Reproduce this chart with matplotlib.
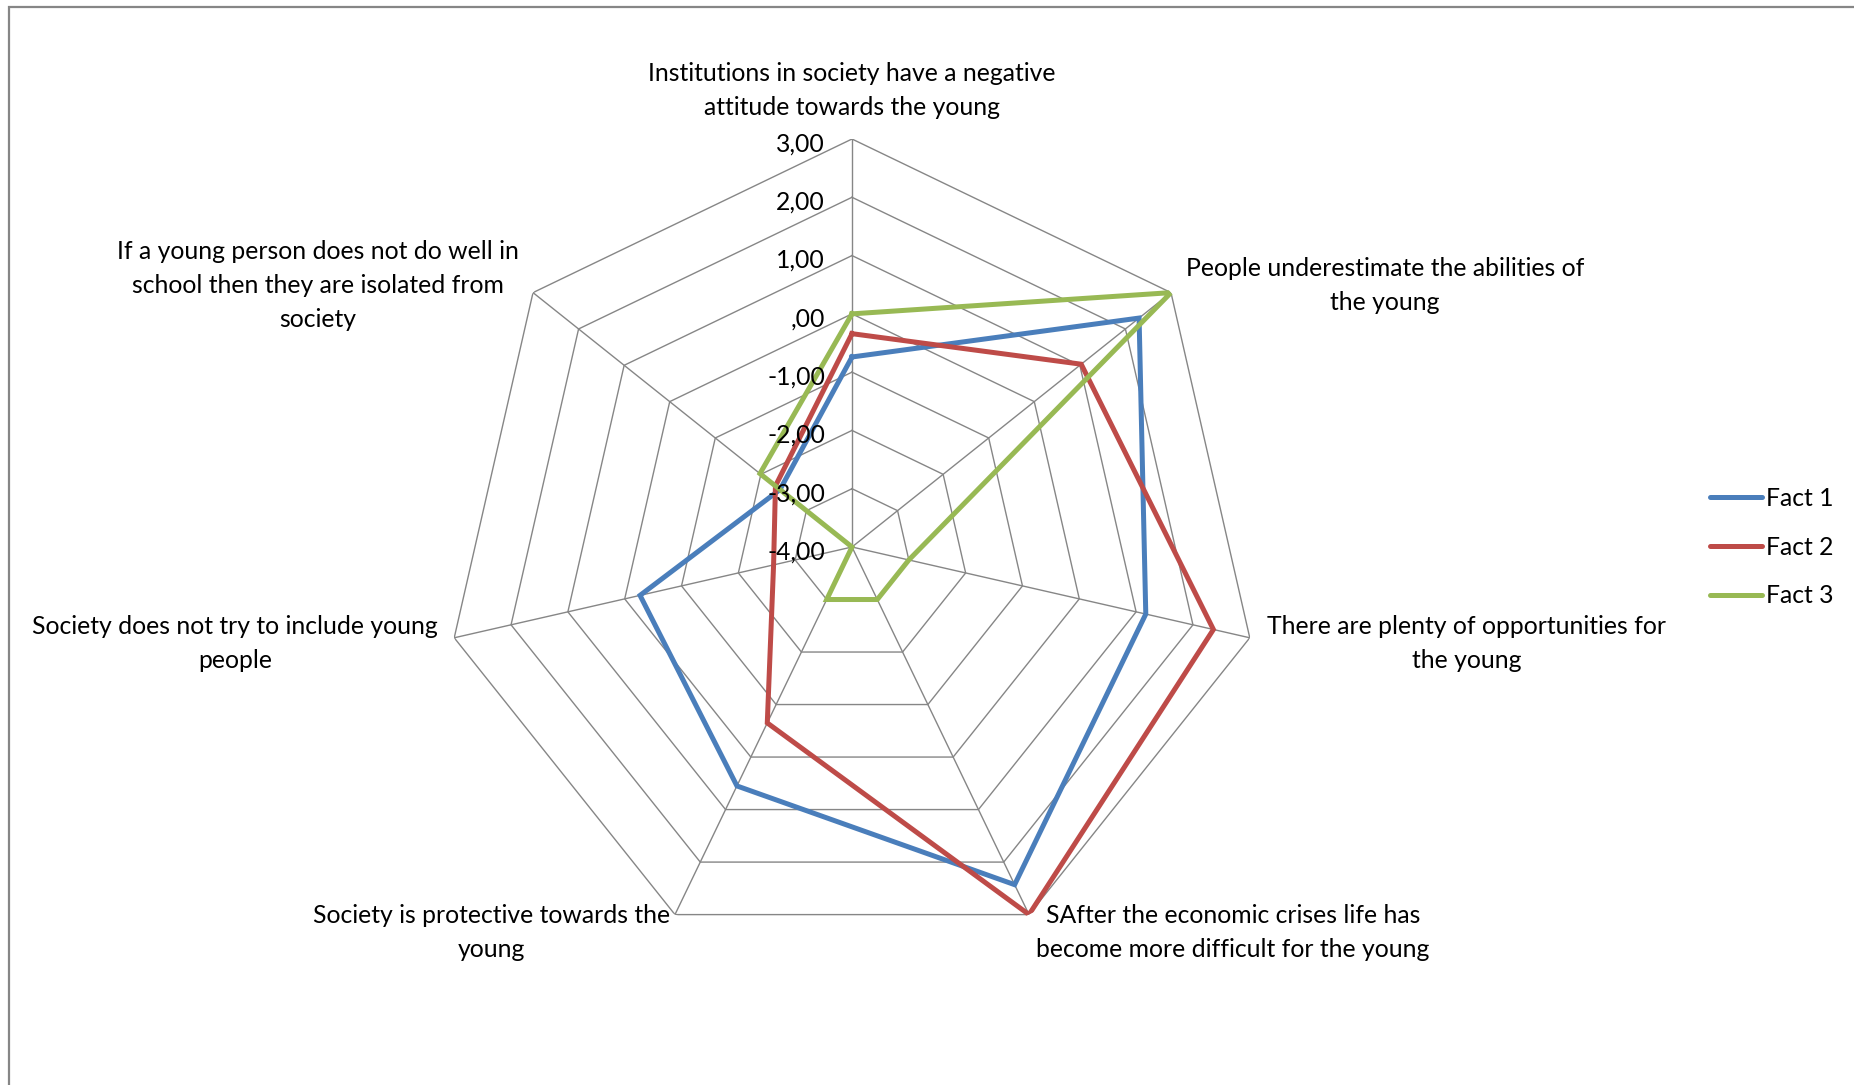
import matplotlib
matplotlib.use("Agg")
import matplotlib.pyplot as plt
import numpy as np

# categories (clockwise from top)
categories = [
    "Institutions in society have a negative\nattitude towards the young",
    "People underestimate the abilities of\nthe young",
    "There are plenty of opportunities for\nthe young",
    "SAfter the economic crises life has\nbecome more difficult for the young",
    "Society is protective towards the\nyoung",
    "Society does not try to include young\npeople",
    "If a young person does not do well in\nschool then they are isolated from\nsociety",
]
fact1 = [-0.74, 2.30, 1.17, 2.43, 0.55, -0.27, -2.42]
fact2 = [-0.34, 1.03, 2.36, 3.00, -0.65, -2.62, -2.32]
fact3 = [0.00, 3.00, -3.00, -3.00, -3.00, -4.00, -1.98]
series_names = ["Fact 1", "Fact 2", "Fact 3"]
series_colors = ["#4A7EBB", "#BE4B48", "#98B954"]
rings = [-4, -3, -2, -1, 0, 1, 2, 3]
ring_labels = ["-4,00", "-3,00", "-2,00", "-1,00", ",00", "1,00", "2,00", "3,00"]

plt.rcParams["font.family"] = ["Lato", "DejaVu Sans"]
FS = 17.8
grid_col = "#868686"

W, H = 1854, 1085
fig = plt.figure(figsize=(W / 100, H / 100), dpi=100)

# chart area border (top and left visible)
fig.add_artist(plt.Rectangle((9 / W, -0.1), 1.2, (H - 7) / H + 0.1, transform=fig.transFigure,
                             fill=False, edgecolor=grid_col, linewidth=1.6))

cx, cy, R = 852, H - 547, 408
ax = fig.add_axes([(cx - R) / W, (cy - R) / H, 2 * R / W, 2 * R / H], projection="polar")
ax.set_theta_zero_location("N")
ax.set_theta_direction(-1)
ax.set_ylim(-4, 3)
ax.grid(False)
ax.spines["polar"].set_visible(False)
ax.set_xticks([])
ax.set_yticks([])
ax.patch.set_alpha(0)

n = len(categories)
angles = np.linspace(0, 2 * np.pi, n, endpoint=False)
closed = np.concatenate([angles, angles[:1]])

# polygon grid and spokes
for r in rings[1:]:
    ax.plot(closed, [r] * (n + 1), color=grid_col, lw=1.0, zorder=1)
for a in angles:
    ax.plot([a, a], [-4, 3], color=grid_col, lw=1.0, zorder=1)

# value labels along the top spoke
for r, lab in zip(rings, ring_labels):
    ax.annotate(lab, xy=(0, r), xytext=(-27, -5), textcoords="offset pixels",
                ha="right", va="center", fontsize=FS, zorder=5)

# series
for vals, name, col in zip([fact1, fact2, fact3], series_names, series_colors):
    v = list(vals) + [vals[0]]
    ax.plot(closed, v, color=col, lw=3.6, label=name, zorder=3, solid_joinstyle="miter")

# category labels
label_pos = [
    ((0, 20), "center", "bottom"),
    ((15, 7), "left", "center"),
    ((17, -6), "left", "center"),
    ((7, 11), "left", "top"),
    ((-5, 11), "right", "top"),
    ((-16, -6), "right", "center"),
    ((-14, 7), "right", "center"),
]
for a, lab, (off, ha, va) in zip(angles, categories, label_pos):
    ax.annotate(lab, xy=(a, 3), xytext=off, textcoords="offset pixels",
                ha=ha, va=va, multialignment="center", fontsize=FS, linespacing=1.58)

leg = fig.legend(loc="center left", bbox_to_anchor=(1688 / W, 1 - 547 / H), frameon=False,
                 fontsize=FS, handlelength=2.1, handletextpad=0.15, labelspacing=1.05)
for line in leg.get_lines():
    line.set_linewidth(3.6)
    line.set_solid_capstyle("round")

fig.savefig("out.png", dpi=100)
